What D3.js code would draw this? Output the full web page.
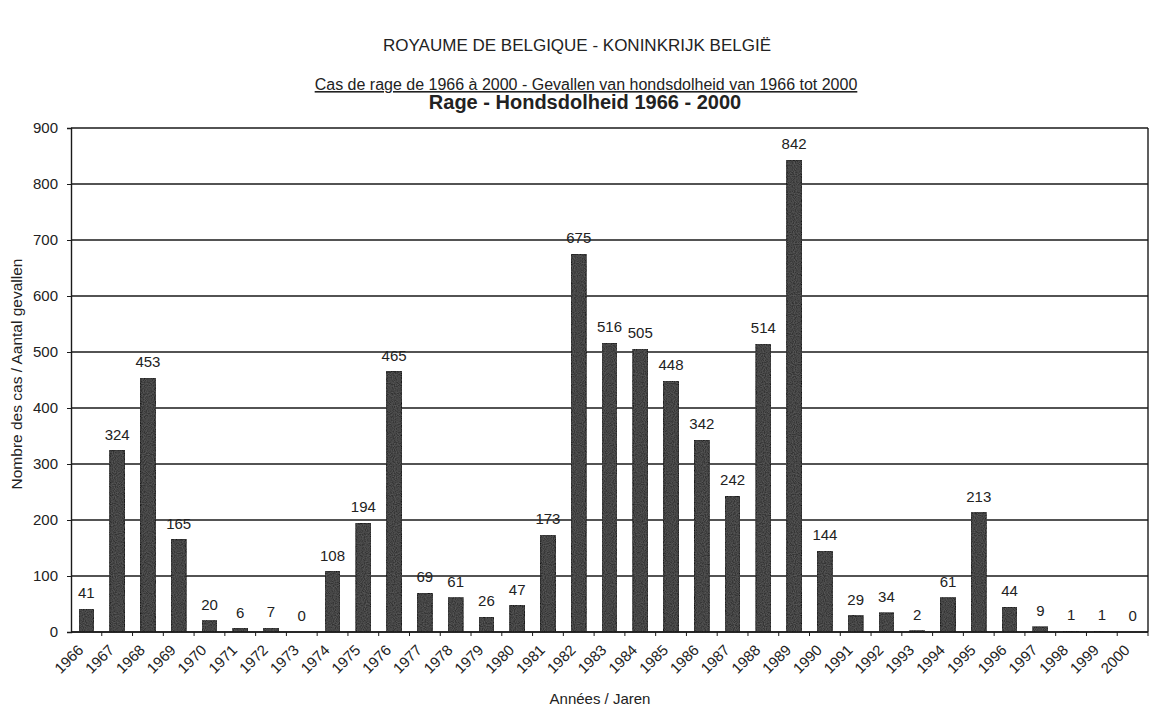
<!DOCTYPE html>
<html>
<head>
<meta charset="utf-8">
<script src="https://cdn.jsdelivr.net/npm/d3@7"></script>
<style>
  body { margin: 0; background: #fff; }
  text { font-family: "Liberation Sans", Arial, sans-serif; fill: #222; }
</style>
</head>
<body>
<div id="chart"></div>
<script>
// data
var years = ["1966","1967","1968","1969","1970","1971","1972","1973","1974","1975",
  "1976","1977","1978","1979","1980","1981","1982","1983","1984","1985","1986","1987",
  "1988","1989","1990","1991","1992","1993","1994","1995","1996","1997","1998","1999","2000"];
var cases = [41, 324, 453, 165, 20, 6, 7, 0, 108, 194,
  465, 69, 61, 26, 47, 173, 675, 516, 505, 448, 342, 242,
  514, 842, 144, 29, 34, 2, 61, 213, 44, 9, 1, 1, 0];
var yTicks = [0, 100, 200, 300, 400, 500, 600, 700, 800, 900];

var width = 1154, height = 709;
var margin = {top: 128, right: 6, bottom: 77, left: 71};

var svg = d3.select("#chart").append("svg")
  .attr("width", width)
  .attr("height", height);

// speckled look of the scanned bars
var defs = svg.append("defs");
var flt = defs.append("filter").attr("id", "speckle")
  .attr("x", 0).attr("y", 0).attr("width", 1).attr("height", 1);
flt.append("feTurbulence")
  .attr("type", "fractalNoise").attr("baseFrequency", 0.9)
  .attr("numOctaves", 1).attr("seed", 3).attr("result", "noise");
flt.append("feColorMatrix").attr("in", "noise").attr("type", "matrix")
  .attr("values", "0 0 0 0 0.3  0 0 0 0 0.3  0 0 0 0 0.3  0 0 0 0.5 -0.15")
  .attr("result", "dots");
flt.append("feComposite").attr("in", "dots").attr("in2", "SourceGraphic")
  .attr("operator", "in").attr("result", "inner");
flt.append("feMerge").selectAll("feMergeNode")
  .data(["SourceGraphic", "inner"])
  .enter().append("feMergeNode").attr("in", function(d) { return d; });

// titles
svg.append("text")
  .attr("x", 577).attr("y", 51)
  .attr("text-anchor", "middle")
  .style("font-size", "17px")
  .text("ROYAUME DE BELGIQUE - KONINKRIJK BELGIË");

svg.append("text")
  .attr("x", 586).attr("y", 90)
  .attr("text-anchor", "middle")
  .style("font-size", "16px")
  .style("text-decoration", "underline")
  .text("Cas de rage de 1966 à 2000 - Gevallen van hondsdolheid van 1966 tot 2000");

svg.append("text")
  .attr("x", 585).attr("y", 109)
  .attr("text-anchor", "middle")
  .style("font-size", "20px")
  .style("font-weight", "bold")
  .text("Rage - Hondsdolheid 1966 - 2000");

var x = d3.scaleBand()
  .domain(years)
  .range([margin.left, width - margin.right])
  .paddingInner(0.52)
  .paddingOuter(0.26);

var y = d3.scaleLinear()
  .domain([0, 900])
  .range([height - margin.bottom, margin.top]);

var g = svg.append("g");

// grid lines
g.selectAll(".grid")
  .data(yTicks)
  .enter().append("line")
  .attr("x1", margin.left)
  .attr("x2", width - margin.right)
  .attr("y1", function(d) { return y(d); })
  .attr("y2", function(d) { return y(d); })
  .style("stroke", "#1a1a1a")
  .style("stroke-width", 1.4);

// right border
g.append("line")
  .attr("x1", width - margin.right).attr("x2", width - margin.right)
  .attr("y1", y(900)).attr("y2", y(0))
  .style("stroke", "#1a1a1a")
  .style("stroke-width", 1.4);

// bars
g.selectAll(".bar")
  .data(cases)
  .enter().append("rect")
  .attr("x", function(d, i) { return x(years[i]); })
  .attr("width", x.bandwidth())
  .attr("y", function(d) { return y(d); })
  .attr("height", function(d) { return y(0) - y(d); })
  .attr("filter", "url(#speckle)")
  .style("fill", "#353535")
  .style("stroke", "#141414")
  .style("stroke-width", 1.2);

// value labels
g.selectAll(".val")
  .data(cases)
  .enter().append("text")
  .attr("x", function(d, i) { return x(years[i]) + x.bandwidth() / 2; })
  .attr("y", function(d) { return y(d) - 11; })
  .attr("text-anchor", "middle")
  .style("font-size", "15px")
  .text(function(d) { return d; });

// y axis
var yAxis = d3.axisLeft(y).tickValues(yTicks).tickSize(4).tickPadding(9);
var ya = svg.append("g")
  .attr("transform", "translate(" + margin.left + ",0)")
  .call(yAxis);
ya.select(".domain").style("stroke", "#1a1a1a").style("stroke-width", 1.4);
ya.selectAll("line").style("stroke", "#1a1a1a");
ya.selectAll("text")
  .style("font-size", "15px")
  .style("font-family", "Liberation Sans, Arial, sans-serif")
  .style("fill", "#222");

// x axis: ticks between categories
var xa = svg.append("g")
  .attr("transform", "translate(0," + y(0) + ")");
xa.append("line")
  .attr("x1", margin.left).attr("x2", width - margin.right)
  .style("stroke", "#1a1a1a").style("stroke-width", 1.4);
xa.selectAll(".tk")
  .data(years)
  .enter().append("line")
  .attr("x1", function(d) { return x(d) - x.step() * x.paddingInner() / 2 + x.step(); })
  .attr("x2", function(d) { return x(d) - x.step() * x.paddingInner() / 2 + x.step(); })
  .attr("y1", 0).attr("y2", 4)
  .style("stroke", "#1a1a1a");
xa.selectAll(".lbl")
  .data(years)
  .enter().append("text")
  .attr("transform", function(d) {
    return "translate(" + (x(d) + x.bandwidth() / 2 - 2) + ",19) rotate(-45)";
  })
  .attr("text-anchor", "end")
  .style("font-size", "15px")
  .text(function(d) { return d; });

// axis titles
svg.append("text")
  .attr("x", 600).attr("y", 704)
  .attr("text-anchor", "middle")
  .style("font-size", "15px")
  .text("Années / Jaren");

svg.append("text")
  .attr("transform", "translate(22," + 374 + ") rotate(-90)")
  .attr("text-anchor", "middle")
  .style("font-size", "15.5px")
  .text("Nombre des cas / Aantal gevallen");
</script>
</body>
</html>
